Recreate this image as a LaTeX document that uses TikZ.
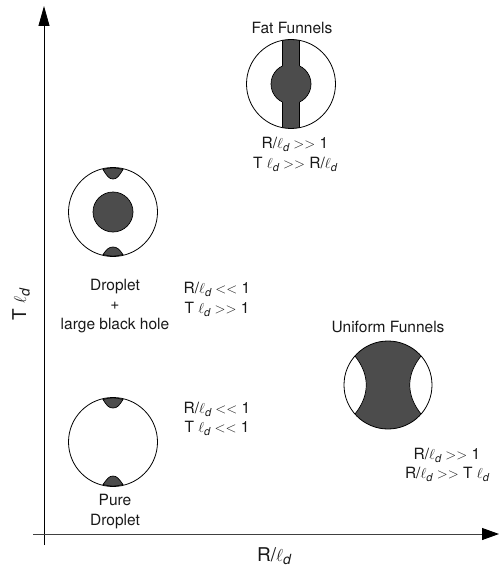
\documentclass[tikz,border=0pt]{standalone}
\usepackage{fontspec}
\setmainfont{TeX Gyre Heros}
\usetikzlibrary{arrows.meta}
\definecolor{dark}{gray}{0.30}
\newcommand{\elld}{$\ell$\raisebox{-3pt}{\fontsize{11}{11}\selectfont\itshape d}}
\newcommand{\elldbig}{$\ell$\raisebox{-3.5pt}{\fontsize{14}{14}\selectfont\itshape d}}
\newcommand{\ggs}{$>$$>$}
\newcommand{\lls}{$<$$<$}
\tikzset{
  lab/.style={font=\fontsize{15.5}{19.5}\selectfont, align=center, inner sep=0pt, text=black!90},
  axlab/.style={font=\fontsize{19}{22}\selectfont, inner sep=0pt, text=black!90},
  ring/.style={draw=black, line width=0.8pt},
  blob/.style={fill=dark, draw=black, line width=0.7pt},
  yaxis/.style={line width=0.8pt, -{Triangle[length=20pt,width=11pt]}},
  xaxis/.style={line width=1pt, draw=black!75, -{Triangle[length=17pt,width=12pt,fill=black,color=black]}}
}
\begin{document}
\begin{tikzpicture}[x=1pt,y=-1pt]
\useasboundingbox (0,0) rectangle (499,567);
% axes
\coordinate (ybot) at (44,545);
\coordinate (ytop) at (44,6);
\coordinate (xleft) at (33,534);
\coordinate (xright) at (499,534);
\draw[yaxis] (ybot) -- (ytop);
\draw[xaxis] (xleft) -- (xright);
\node[axlab] (xlab) at (274,556) {R/\elldbig};
\node[axlab, rotate=90] (ylab) at (21,305) {T \elldbig};
% Fat funnels
\coordinate (F) at (291,84);
\begin{scope}
  \clip (F) circle[radius=44.5];
  \fill[blob] (282.5,30) rectangle (299.5,140);
\end{scope}
\fill[dark] (F) circle[radius=20];
\begin{scope}
  \clip (282.5,30) rectangle (230,140) (299.5,30) rectangle (350,140);
  \draw[black, line width=0.7pt] (F) circle[radius=20];
\end{scope}
\fill[dark] (283,66) rectangle (299,102);
\draw[ring] (F) circle[radius=44.5];
\node[lab] (ft) at (292,28) {Fat Funnels};
\node[lab] (fc) at (295,154.5) {R/\elld{} \ggs{} 1\\T \elld{} \ggs{} R/\elld};
% Droplet + black hole
\coordinate (D) at (113,212);
\draw[blob] (103,169.5) .. controls (107,176) and (109,179) .. (113,179) .. controls (117,179) and (119,176) .. (123,169.5) .. controls (116,167.3) and (110,167.3) .. (103,169.5) -- cycle;
\draw[blob] (103,254.5) .. controls (107,249) and (109,247) .. (113,247) .. controls (117,247) and (119,249) .. (123,254.5) .. controls (116,256.7) and (110,256.7) .. (103,254.5) -- cycle;
\draw[blob] (D) circle[radius=20];
\draw[ring] (D) circle[radius=44.5];
\node[lab] (dl) at (115,306) {Droplet\\+\\large black hole};
\node[lab] (dc) at (217,299.5) {R/\elld{} \lls{} 1\\T \elld{} \ggs{} 1};
% Pure droplet
\coordinate (P) at (113,442);
\draw[blob] (103,399.5) .. controls (107,406) and (109,408) .. (113,408) .. controls (117,408) and (119,406) .. (123,399.5) .. controls (116,397.3) and (110,397.3) .. (103,399.5) -- cycle;
\draw[blob] (103,484.5) .. controls (107,479) and (109,476) .. (113,476) .. controls (117,476) and (119,479) .. (123,484.5) .. controls (116,486.7) and (110,486.7) .. (103,484.5) -- cycle;
\draw[ring] (P) circle[radius=44.5];
\node[lab] (pl) at (115,511.5) {Pure\\Droplet};
\node[lab] (pc) at (217,419) {R/\elld{} \lls{} 1\\T \elld{} \lls{} 1};
% Uniform funnels
\coordinate (U) at (388,385);
\fill[dark] (U) circle[radius=44];
\begin{scope}
  \clip (U) circle[radius=44];
  \fill[white, draw=black, line width=0.7pt] (355,356) .. controls (370,375) and (370,395) .. (355,414) -- (335,414) -- (335,356) -- cycle;
  \fill[white, draw=black, line width=0.7pt] (421,356) .. controls (406,375) and (406,395) .. (421,414) -- (441,414) -- (441,356) -- cycle;
\end{scope}
\draw[ring] (U) circle[radius=44];
\node[lab] (ut) at (388,327) {Uniform Funnels};
\node[lab] (uc) at (447,465) {R/\elld{} \ggs{} 1\\R/\elld{} \ggs{} T \elld};
\end{tikzpicture}
\end{document}
